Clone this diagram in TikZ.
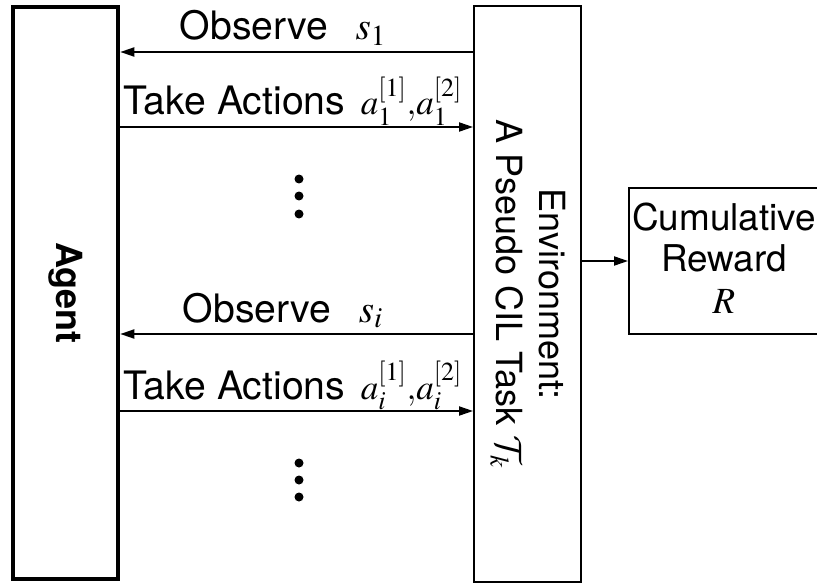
\documentclass[tikz,border=0pt]{standalone}
\usepackage{mathptmx}
\usepackage[no-math]{fontspec}
\setmainfont{TeX Gyre Heros}
\DeclareMathAlphabet{\mathcal}{OMS}{cmsy}{m}{n}
\newcommand{\actmath}[1]{{\fontsize{20}{23}\selectfont$#1$}}
\usetikzlibrary{arrows.meta,positioning,calc}
\tikzset{
  agentbox/.style={draw,line width=2.6pt,minimum width=2.1cm,minimum height=11.44cm,inner sep=0pt},
  envbox/.style  ={draw,line width=1.1pt,minimum width=2.14cm,minimum height=11.52cm,inner sep=0pt},
  rewbox/.style  ={draw,line width=1.1pt,minimum width=3.86cm,minimum height=2.92cm,inner sep=0pt},
  ar/.style      ={line width=1.1pt,-{Triangle[length=2.8mm,width=1.8mm]}},
  lbl/.style     ={font=\fontsize{22.3}{25}\selectfont,inner sep=0pt,anchor=base},
  vtxt/.style    ={font=\fontsize{20.5}{24.5}\selectfont,inner sep=0pt,rotate=-90,align=center},
  dot/.style     ={circle,fill=black,inner sep=0pt,minimum size=1.8mm},
}

\begin{document}
\begin{tikzpicture}[x=0.02cm,y=-0.02cm]
  \useasboundingbox (0,0) rectangle (817,584);

  % the three boxes
  \node[agentbox] (agent) at (65.5,293) {};
  \node[envbox] (env) at (527.5,294) {};
  \node[rewbox] (rew) at (725.5,261) {};

  \node[vtxt,font=\fontsize{20.5}{24.5}\selectfont\bfseries] (agenttxt) at (agent.center) {Agent};
  \node[vtxt] (envtxt) at (528,294) {Environment:\\A Pseudo CIL Task $\mathcal{T}_k$};
  \node[font=\fontsize{21}{23.5}\selectfont,align=center,inner sep=0pt] (rewtxt) at (724,258)
    {Cumulative\\Reward\\$R$};

  % heights of the four exchanges
  \coordinate (y1) at (0,52);
  \coordinate (y2) at (0,127);
  \coordinate (y3) at (0,334);
  \coordinate (y4) at (0,411);

  \draw[ar] (env.west |- y1) -- (agent.east |- y1);
  \draw[ar] (agent.east |- y2) -- (env.west |- y2);
  \draw[ar] (env.west |- y3) -- (agent.east |- y3);
  \draw[ar] (agent.east |- y4) -- (env.west |- y4);
  \draw[ar] (env.east |- rew.west) -- (rew.west);

  \node[lbl] (obs1) at (283,40) {Observe\hspace{0.7em}$s_1$};
  \node[lbl] (act1) at (293,115) {Take Actions\hspace{0.4em}\actmath{a_1^{[1]}{,}a_1^{[2]}}};
  \node[lbl] (obsi) at (283,322) {Observe\hspace{0.7em}$s_i$};
  \node[lbl] (acti) at (293,399) {Take Actions\hspace{0.4em}\actmath{a_i^{[1]}{,}a_i^{[2]}}};

  % vertical dots
  \foreach \y [count=\n] in {179,196,214,463,480,497}
    \node[dot] (d\n) at (299,\y) {};
\end{tikzpicture}
\end{document}
